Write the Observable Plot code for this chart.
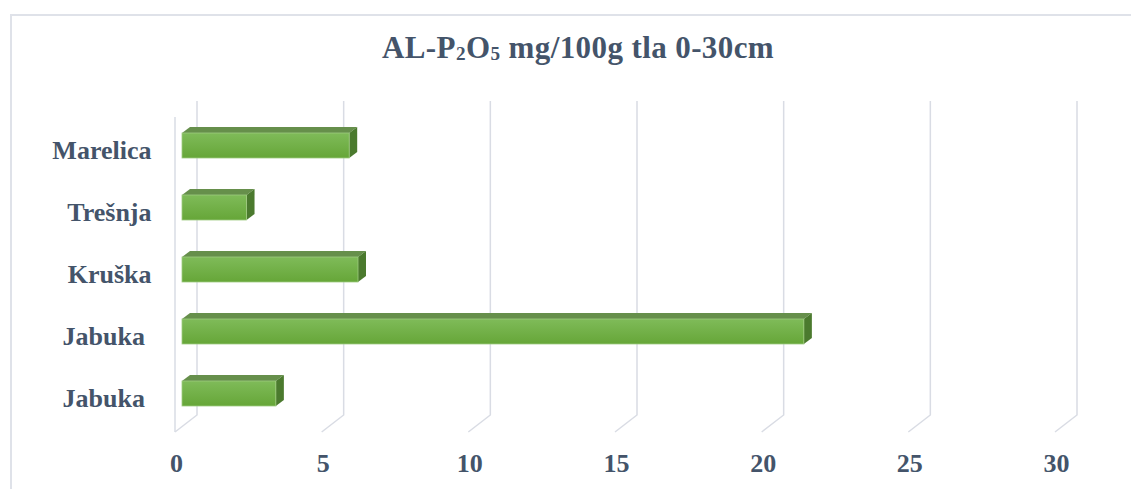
<!DOCTYPE html>
<html>
<head>
<meta charset="utf-8">
<script src="https://cdn.jsdelivr.net/npm/d3@7"></script>
<script src="https://cdn.jsdelivr.net/npm/@observablehq/plot@0.6"></script>
<style>
  html, body { margin: 0; padding: 0; background: #fff; }
  #wrap { position: relative; width: 1131px; height: 489px; overflow: hidden; }
  #frame { position: absolute; left: 10px; top: 14px; width: 1300px; height: 700px; border: 2px solid #dfe2e9; box-sizing: border-box; }
  #title { position: relative; height: 85px; }
  #title span { position: absolute; left: 578px; top: 32px; transform: translateX(-50%); white-space: nowrap;
    font-family: "Liberation Serif", "Times New Roman", serif; font-weight: bold; font-size: 31px; line-height: 31px;
    letter-spacing: 0.4px; color: #44546A; }
  #title sub { font-size: 0.62em; vertical-align: baseline; position: relative; top: 0.08em; }
  #chart { position: relative; }
</style>
</head>
<body>
<div id="wrap">
  <div id="frame"></div>
  <div id="title"><span>AL-P<sub>2</sub>O<sub>5</sub> mg/100g tla 0-30cm</span></div>
  <div id="chart"></div>
</div>
<script>
// ---- data ----
const categories = ["Marelica", "Trešnja", "Kruška", "Jabuka ", "Jabuka "];
const values = [5.7, 2.2, 6.0, 21.2, 3.2];
const xTicks = [0, 5, 10, 15, 20, 25, 30];

const rows = categories.map((c, i) => ({id: i, label: c, value: values[i]}));

const textColor = "#44546A";
const gridColor = "#d9dce4";
const DX = 8, DY = 6;          // bar depth offset
const BACK = 15, FRONT = -7;   // wall offsets relative to bar plane

const defsMark = () => {
  const defs = d3.create("svg:defs");
  const g = defs.append("linearGradient").attr("id", "barGrad").attr("x1", 0).attr("y1", 0).attr("x2", 0).attr("y2", 1);
  g.append("stop").attr("offset", "0%").attr("stop-color", "#7fbb59");
  g.append("stop").attr("offset", "100%").attr("stop-color", "#66a638");
  return defs.node();
};

const gridMark = (index, scales) => {
  const x = scales.x;
  const top = 16, backBottom = 330, frontBottom = 347;
  const g = d3.create("svg:g").attr("stroke", gridColor).attr("stroke-width", 1.5).attr("fill", "none");
  for (const v of xTicks) {
    const xb = x(v) + BACK, xf = x(v) + FRONT;
    g.append("path").attr("d", `M${xb},${top}L${xb},${backBottom}L${xf},${frontBottom}`);
  }
  const x0 = x(xTicks[0]) + FRONT;
  g.append("path").attr("d", `M${x0},32L${x0},${frontBottom}`);
  return g.node();
};

const depthMark = (index, scales) => {
  const x = scales.x, y = scales.y;
  const bw = typeof y.bandwidth === "function" ? y.bandwidth() : scales.scales.y.bandwidth;
  const g = d3.create("svg:g");
  for (const r of rows) {
    const x0 = x(0), x1 = x(r.value), y0 = y(r.id), y1 = y0 + bw;
    g.append("path").attr("fill", "#668f4b")
      .attr("d", `M${x0},${y0}L${x1},${y0}L${x1 + DX},${y0 - DY}L${x0 + DX},${y0 - DY}Z`);
    g.append("path").attr("fill", "#4b7a2e")
      .attr("d", `M${x1},${y0}L${x1 + DX},${y0 - DY}L${x1 + DX},${y1 - DY}L${x1},${y1}Z`);
  }
  return g.node();
};

const plot = Plot.plot({
  width: 1131,
  height: 404,
  marginLeft: 182,
  marginRight: 69,
  marginTop: 28,
  marginBottom: 63,
  style: {background: "transparent", color: textColor, fontFamily: "'Liberation Serif', 'Times New Roman', serif", fontWeight: "bold", overflow: "visible"},
  x: {domain: [0, 30]},
  y: {domain: rows.map(d => d.id), paddingInner: 0.6, paddingOuter: 0.3},
  marks: [
    defsMark,
    gridMark,
    depthMark,
    Plot.barX(rows, {x1: 0, x2: "value", y: "id", fill: "url(#barGrad)", stroke: "#9fca80", strokeWidth: 0.8}),
    Plot.axisX({ticks: xTicks, tickSize: 0, tickPadding: 27, dx: -6, fontSize: 26, fontWeight: "bold", fill: textColor, label: null}),
    Plot.axisY({tickSize: 0, tickPadding: 31, dy: 5, fontSize: 26, fontWeight: "bold", fill: textColor, label: null,
      tickFormat: i => categories[i].replace(/ $/, "\u00a0")})
  ]
});
document.getElementById("chart").appendChild(plot);
</script>
</body>
</html>
